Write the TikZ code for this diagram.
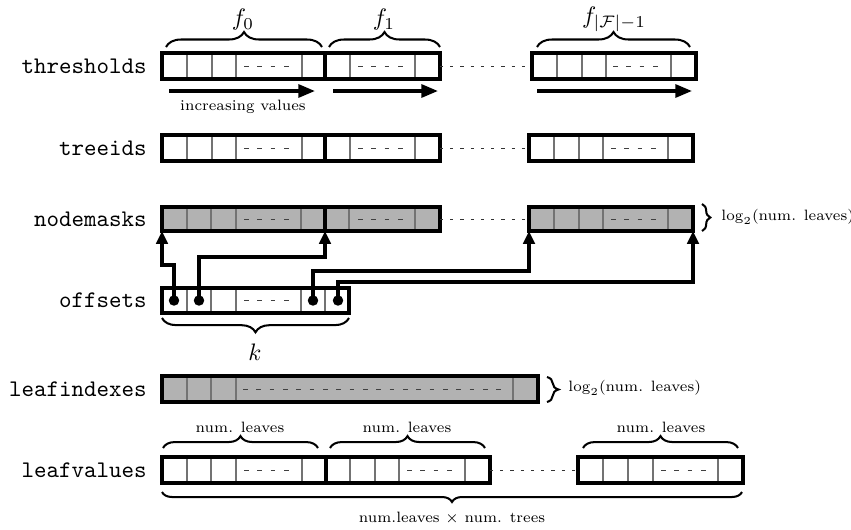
\documentclass[tikz,border=0pt]{standalone}
\usepackage{graphicx}
\usetikzlibrary{decorations.pathreplacing,arrows.meta,calc}
\newcommand\smtxt[1]{\scalebox{0.9}{\scriptsize #1}}
\begin{document}
\begin{tikzpicture}[x=0.42pt,y=-0.42pt,
 blk/.style={draw, line width=1.45pt, inner sep=0pt, outer sep=0pt, anchor=north west},
 bx/.style 2 args={minimum width=#1*0.42pt, minimum height=#2*0.42pt},
 grayfill/.style={fill=gray!60},
 divider/.style={draw=black!55, line width=0.45pt},
 gaps/.style={draw=black!75, line width=0.4pt, dash pattern=on 2pt off 3.6pt},
 gapline/.style={draw=black!80, line width=0.4pt, dash pattern=on 1.3pt off 3pt},
 lab/.style={anchor=east, font=\ttfamily, inner sep=0pt},
 sm/.style={inner sep=0pt},
 brc/.style={decorate, decoration={brace, amplitude=#1}, line width=0.85pt},
 ptr/.style={line width=1.45pt, -{Triangle[width=4.8pt,length=5.4pt]}},
 incr/.style={line width=1.45pt, -{Triangle[width=5.4pt,length=7pt]}},
 dotn/.style={circle, fill, inner sep=0pt, minimum size=4.4pt},
]
\useasboundingbox (0,0) rectangle (851,529);

% ---------------- thresholds
\node[lab] (lth) at (147,66) {thresholds};
\node[blk, bx={163}{26}] (th0) at (162,53) {};
\node[blk, bx={115}{26}] (th1) at (325,53) {};
\node[blk, bx={164}{26}] (th2) at (532,53) {};
\foreach \x in {187,212,236,302,350,415,557,582,606,671}
  \draw[divider] (\x,55) -- (\x,77);
\draw[gaps] (244,66) -- (292,66);
\draw[gaps] (358,66) -- (406,66);
\draw[gaps] (613,66) -- (661,66);
\draw[gapline] (th1.east) -- (th2.west);
\draw[brc=6.3pt] (166,47) -- (322,47);
\draw[brc=6.3pt] (329,47) -- (440,47);
\draw[brc=6.3pt] (537,47) -- (690,47);
\node (f0) at (243,20) {$f_0$};
\node (f1) at (384,20) {$f_1$};
\node (fl) at (614,19) {$f_{|\mathcal{F}|-1}$};
\draw[incr] ($(th0.south west)+(7,12)$) -- ($(th0.south east)+(-10,12)$);
\draw[incr] ($(th1.south west)+(8,12)$) -- ($(th1.south east)+(-2,12)$);
\draw[incr] ($(th2.south west)+(5,12)$) -- ($(th2.south east)+(-4,12)$);
\node[sm] (incv) at (243,107) {\smtxt{increasing values}};

% ---------------- treeids
\node[lab] (ltr) at (147,148) {treeids};
\node[blk, bx={163}{26}] (tr0) at (162,135) {};
\node[blk, bx={115}{26}] (tr1) at (325,135) {};
\node[blk, bx={164}{26}] (tr2) at (529,135) {};
\foreach \x in {187,212,236,302,350,415,554,579,603,668}
  \draw[divider] (\x,137) -- (\x,159);
\draw[gaps] (244,148) -- (292,148);
\draw[gaps] (358,148) -- (406,148);
\draw[gaps] (611,148) -- (659,148);
\draw[gapline] (tr1.east) -- (tr2.west);

% ---------------- nodemasks
\node[lab] (lnm) at (147,219) {nodemasks};
\node[blk, grayfill, bx={163}{24}] (nm0) at (162,207) {};
\node[blk, grayfill, bx={115}{24}] (nm1) at (325,207) {};
\node[blk, grayfill, bx={164}{24}] (nm2) at (529,207) {};
\foreach \x in {187,211,236,301,349,415,554,579,603,668}
  \draw[divider] (\x,209) -- (\x,229);
\draw[gaps] (244,219) -- (292,219);
\draw[gaps] (358,219) -- (406,219);
\draw[gaps] (611,219) -- (659,219);
\draw[gapline] (nm1.east) -- (nm2.west);
\draw[brc=3.5pt] (702,204) -- (702,231);
\node[sm, anchor=west] (nmlog) at (721,217) {\smtxt{$\log_2$(num. leaves)}};

% ---------------- offsets
\node[lab] (lof) at (147,300) {offsets};
\node[blk, bx={187}{25}] (of) at (162,288) {};
\foreach \x in {187,211,236,301,325}
  \draw[divider] (\x,290) -- (\x,311);
\draw[gaps] (244,300.5) -- (292,300.5);
\node[dotn] (o1) at (174,300.5) {};
\node[dotn] (o2) at (199,300.5) {};
\node[dotn] (o3) at (313,300.5) {};
\node[dotn] (o4) at (338,300.5) {};
\draw[ptr] (o1.center) |- ($(nm0.south west)+(0,34)$) -- (nm0.south west);
\draw[ptr] (o2.center) |- ($(nm0.south east)+(0,26)$) -- (nm0.south east);
\draw[ptr] (o3.center) |- ($(nm2.south west)+(0,40)$) -- (nm2.south west);
\draw[ptr] (o4.center) |- ($(nm2.south east)+(0,51)$) -- (nm2.south east);
\draw[brc=6pt] (349,318) -- (162,318);
\node (k) at (255,352) {$k$};

% ---------------- leafindexes
\node[lab] (lli) at (147,389) {leafindexes};
\node[blk, grayfill, bx={376}{26}] (li) at (162,376) {};
\foreach \x in {187,211,236,513}
  \draw[divider] (\x,378) -- (\x,400);
\draw[gaps] (243,389) -- (507,389);
\draw[brc=4.8pt] (547,377) -- (547,402);
\node[sm, anchor=west] (lilog) at (568,388) {\smtxt{$\log_2$(num. leaves)}};

% ---------------- leafvalues
\node[lab] (llv) at (147,470) {leafvalues};
\node[blk, bx={164}{26}] (lv0) at (162,457) {};
\node[blk, bx={164}{26}] (lv1) at (326,457) {};
\node[blk, bx={165}{26}] (lv2) at (578,457) {};
\foreach \x in {187,211,236,302,350,375,399,465,603,628,653,718}
  \draw[divider] (\x,459) -- (\x,481);
\draw[gaps] (244,470) -- (292,470);
\draw[gaps] (407,470) -- (455,470);
\draw[gaps] (661,470) -- (709,470);
\draw[gapline] (lv1.east) -- (lv2.west);
\draw[brc=5pt] (163,448) -- (318,448);
\draw[brc=5pt] (330,448) -- (485,448);
\draw[brc=5pt] (583,448) -- (738,448);
\node[sm] (nl0) at (240,427) {\smtxt{num. leaves}};
\node[sm] (nl1) at (407,427) {\smtxt{num. leaves}};
\node[sm] (nl2) at (661,427) {\smtxt{num. leaves}};
\draw[brc=4.2pt] (742,492) -- (162,492);
\node[sm] (tot) at (452,518) {\smtxt{num.leaves $\times$ num. trees}};
\end{tikzpicture}
\end{document}
